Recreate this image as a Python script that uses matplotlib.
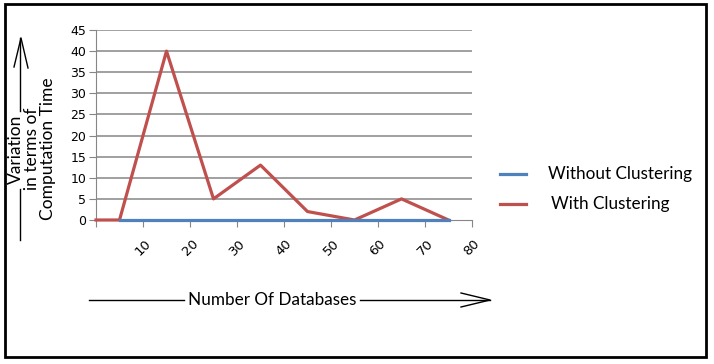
import numpy as np
import matplotlib
matplotlib.use('Agg')
import matplotlib.pyplot as plt
from matplotlib.patches import Rectangle
from matplotlib.lines import Line2D

# data
x_with = [0, 5, 15, 25, 35, 45, 55, 65, 75]
y_with = [0, 0, 40, 5, 13, 2, 0, 5, 0]
x_without = [5, 15, 25, 35, 45, 55, 65, 75]
y_without = [0, 0, 0, 0, 0, 0, 0, 0]
xticks = [0, 10, 20, 30, 40, 50, 60, 70, 80]
xlabels = ['', '10', '20', '30', '40', '50', '60', '70', '80']
yticks = [0, 5, 10, 15, 20, 25, 30, 35, 40, 45]
ylabel_lines = ['Variation', 'in terms of', 'Computation Time']

W, H = 714, 364
fig = plt.figure(figsize=(W / 100, H / 100), dpi=100)
ax = fig.add_axes([96 / W, (H - 220) / H, (472 - 96) / W, (220 - 30) / H])

grey = '#868686'
blue = '#4F81BD'
red = '#C0504D'

for v in yticks[1:]:
    ax.axhline(v, color=grey, lw=1.1, zorder=1)

ax.plot(x_with, y_with, color=red, lw=2.3, zorder=4, clip_on=False, label='With Clustering')
ax.plot(x_without, y_without, color=blue, lw=2.3, zorder=5, clip_on=False, label='Without Clustering')

ax.set_xlim(0, 80)
ax.set_ylim(0, 45)
ax.set_xticks(xticks)
ax.set_xticklabels(xlabels, rotation=45, ha='center', va='top', fontsize=9.5)
ax.set_yticks(yticks)
ax.tick_params(axis='y', labelsize=9, length=5, color=grey, pad=2)
ax.tick_params(axis='x', length=5, color=grey, pad=7)
for s in ['top', 'right']:
    ax.spines[s].set_visible(False)
ax.spines['left'].set_color(grey)
ax.spines['bottom'].set_color(grey)

# legend
fig.text(548 / W, 1 - 174 / H, 'Without Clustering', fontsize=12.3, family='Lato', va='center')
fig.text(551 / W, 1 - 204 / H, 'With Clustering', fontsize=12.3, family='Lato', va='center')
fig.add_artist(Line2D([500 / W, 526 / W], [1 - 174 / H, 1 - 174 / H], color=blue, lw=2.3))
fig.add_artist(Line2D([500 / W, 526 / W], [1 - 204 / H, 1 - 204 / H], color=red, lw=2.3))

# y label (three rotated lines) with arrow
for xc, txt in zip([16, 32, 48], ylabel_lines):
    fig.text(xc / W, 1 - 149 / H, txt, rotation=90, ha='center', va='center',
             fontsize=12.5, family='Lato')
fig.add_artist(Line2D([20 / W, 20 / W], [1 - 240 / H, 1 - 189 / H], color='black', lw=1))
fig.add_artist(Line2D([20 / W, 20 / W], [1 - 111 / H, 1 - 38 / H], color='black', lw=1))
fig.add_artist(Line2D([14 / W, 21 / W, 28 / W], [1 - 67 / H, 1 - 38 / H, 1 - 68 / H], color='black', lw=1))

# x label with arrow
fig.text(272 / W, 1 - 300 / H, 'Number Of Databases', ha='center', va='center',
         fontsize=12.3, family='Lato')
fig.add_artist(Line2D([89 / W, 184 / W], [1 - 300 / H, 1 - 300 / H], color='black', lw=1))
fig.add_artist(Line2D([360 / W, 490 / W], [1 - 300 / H, 1 - 300 / H], color='black', lw=1))
fig.add_artist(Line2D([461 / W, 490 / W, 461 / W], [1 - 293 / H, 1 - 300 / H, 1 - 307 / H], color='black', lw=1))

# outer border
fig.add_artist(Rectangle((5 / W, 1 - 357 / H), 701 / W, 353 / H, transform=fig.transFigure,
                         fill=False, edgecolor='black', lw=2))

fig.savefig('out.png', dpi=100)
